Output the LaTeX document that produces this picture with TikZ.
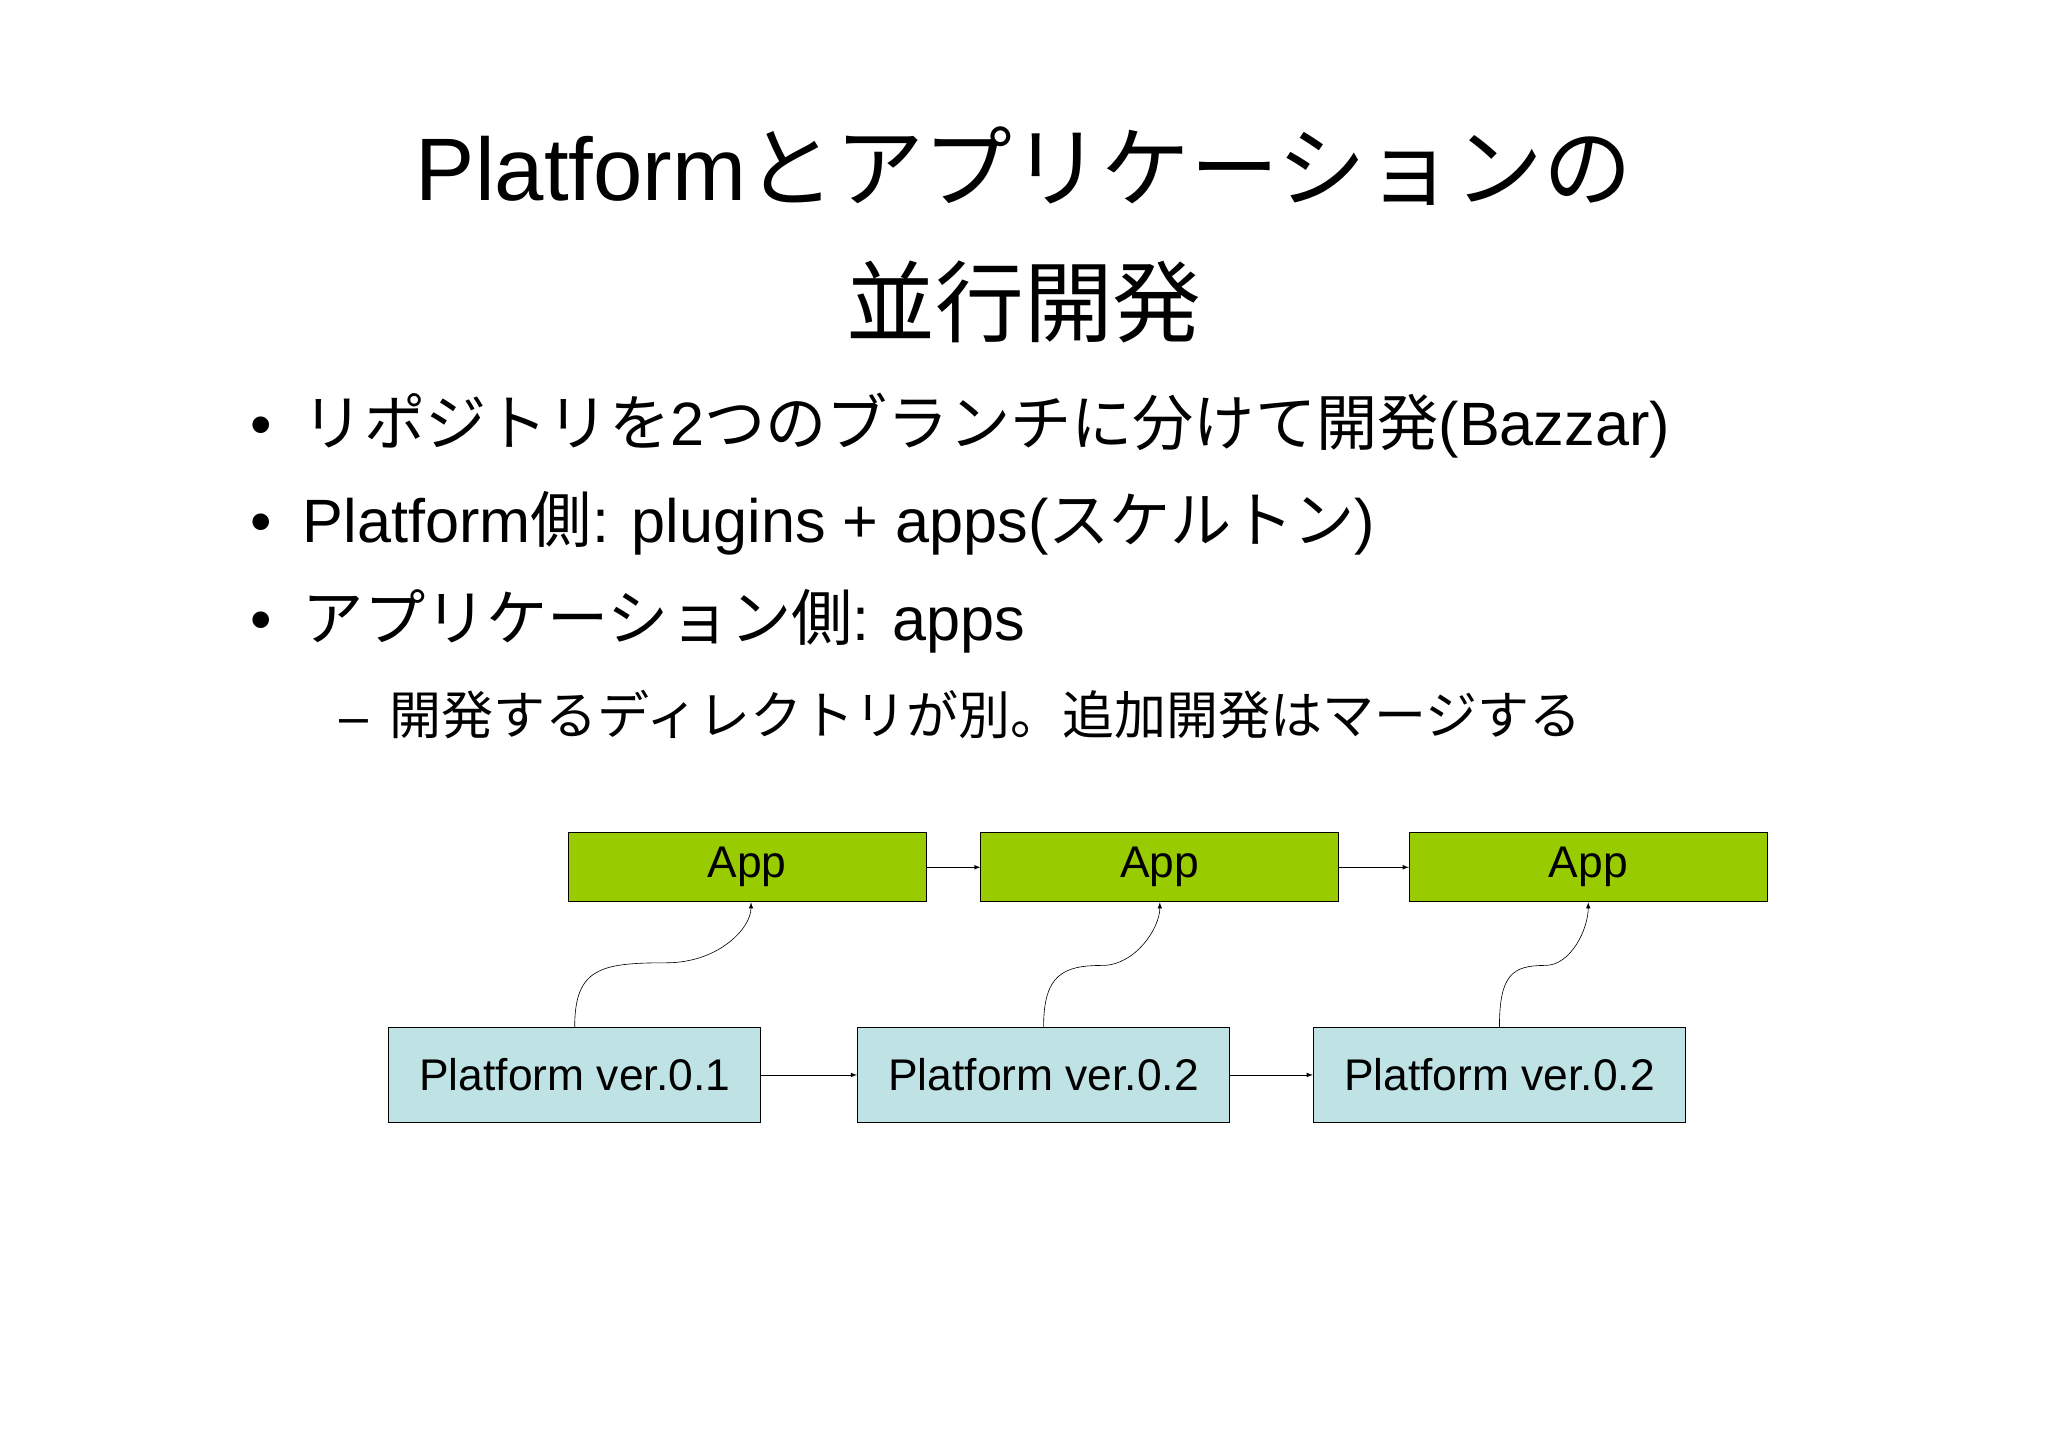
\documentclass[tikz,border=0pt]{standalone}
\usepackage{fontspec}
\setmainfont{Liberation Sans}
\newfontfamily\cjk{Noto Sans CJK JP}
\usetikzlibrary{arrows}
\tikzstyle{appBox} = [draw, semithick, fill={rgb,255:red,153;green,204;blue,0}, minimum width=274*0.3mm, minimum height=53*0.3mm, inner sep=0pt, font=\fontsize{29}{32}\selectfont]
\tikzstyle{pfBox} = [draw, semithick, fill={rgb,255:red,191;green,227;blue,229}, minimum width=285*0.3mm, minimum height=73*0.3mm, inner sep=0pt, font=\fontsize{29}{32}\selectfont]
\tikzstyle{flow} = [-latex]
\begin{document}
\begin{tikzpicture}[x=0.3mm,y=-0.3mm]
  \useasboundingbox (0,0) rectangle (1568,1108);
  % title
  \node[align=center, font=\fontsize{58}{88}\selectfont] (title) at (784,180)
    {Platform{\cjk とアプリケーションの}\\{\cjk 並行開発}};
  % bullets
  \node[anchor=west, font=\fontsize{40}{46}\selectfont] (b1) at (188,326)
    {\textbullet\hspace{0.5em}{\cjk リポジトリを}2{\cjk つのブランチに分けて開発}(Bazzar)};
  \node[anchor=west, font=\fontsize{40}{46}\selectfont] (b2) at (188,401)
    {\textbullet\hspace{0.5em}Platform{\cjk 側}: plugins + apps({\cjk スケルトン})};
  \node[anchor=west, font=\fontsize{40}{46}\selectfont] (b3) at (188,476)
    {\textbullet\hspace{0.5em}{\cjk アプリケーション側}: apps};
  \node[anchor=west, font=\fontsize{34}{40}\selectfont] (b4) at (256,547)
    {--\hspace{0.4em}{\cjk 開発するディレクトリが別。追加開発はマージする}};

  \node[appBox] (a1) at (572,664) {App};
  \node[appBox] (a2) at (888,664) {App};
  \node[appBox] (a3) at (1216,664) {App};
  \node[pfBox] (p1) at (440,823) {Platform ver.0.1};
  \node[pfBox] (p2) at (799,823) {Platform ver.0.2};
  \node[pfBox] (p3) at (1148,823) {Platform ver.0.2};

  \draw[flow] (a1) -- (a2);
  \draw[flow] (a2) -- (a3);
  \draw[flow] (p1) -- (p2);
  \draw[flow] (p2) -- (p3);
  \draw[flow] (p1.north) .. controls ++(0,-45) and ++(-50,0) .. ++(70,-49) .. controls ++(40,0) and ++(0,20) .. ([xshift=3*0.3mm]a1.south);
  \draw[flow] (p2.north) .. controls ++(0,-40) and ++(-30,0) .. ++(45,-47) .. controls ++(25,0) and ++(0,20) .. (a2.south);
  \draw[flow] (p3.north) .. controls ++(0,-40) and ++(-25,0) .. ++(35,-47) .. controls ++(20,0) and ++(0,20) .. (a3.south);
\end{tikzpicture}
\end{document}
